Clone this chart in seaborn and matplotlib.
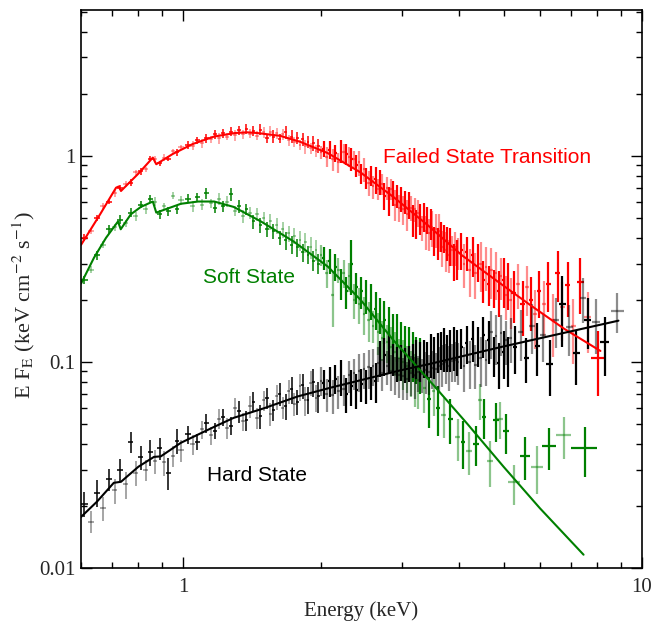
import numpy as np
import seaborn as sns
import matplotlib
matplotlib.use("Agg")
import matplotlib.pyplot as plt
from matplotlib.ticker import LogLocator, NullFormatter

# common energy grid (keV) used by the three spectra below 5.2 keV
grid_energy = [0.61, 0.63, 0.65, 0.67, 0.69, 0.71, 0.73, 0.75, 0.77, 0.79,
               0.81, 0.83, 0.85, 0.87, 0.89, 0.91, 0.93, 0.95, 0.97, 0.99,
               1.025, 1.05, 1.075, 1.10, 1.125, 1.15, 1.175, 1.20, 1.225, 1.25,
               1.275, 1.30, 1.325, 1.35, 1.375, 1.40, 1.425, 1.45, 1.475, 1.50,
               1.525, 1.55, 1.575, 1.60, 1.625, 1.65, 1.675, 1.70, 1.725, 1.75,
               1.775, 1.80, 1.825, 1.85, 1.875, 1.90, 1.925, 1.95, 1.975, 2.00,
               2.03, 2.06, 2.09, 2.12, 2.15, 2.18, 2.21, 2.24, 2.27, 2.30,
               2.33, 2.36, 2.39, 2.42, 2.45, 2.48, 2.51, 2.54, 2.57, 2.60,
               2.63, 2.66, 2.69, 2.72, 2.75, 2.78, 2.81, 2.84, 2.87, 2.90,
               2.93, 2.96, 2.99, 3.02, 3.05, 3.08, 3.11, 3.14, 3.17, 3.20,
               3.23, 3.26, 3.29, 3.32, 3.35, 3.38, 3.41, 3.44, 3.47, 3.50,
               3.53, 3.56, 3.59, 3.62, 3.65, 3.68, 3.71, 3.74, 3.77, 3.80,
               3.83, 3.86, 3.89, 3.92, 3.95, 3.98,
               4.04, 4.10, 4.16, 4.22, 4.28, 4.34, 4.40, 4.46, 4.52, 4.58,
               4.64, 4.70, 4.76, 4.82, 4.88, 4.94, 5.00, 5.06, 5.12, 5.18]

# ---- failed state transition (red)
red_flux = [0.40, 0.43, 0.50, 0.57, 0.60, 0.66, 0.70, 0.73, 0.74, 0.83,
            0.84, 0.86, 0.97, 0.96, 0.92, 0.98, 0.97, 1.05, 1.04, 1.10,
            1.13, 1.12, 1.19, 1.15, 1.22, 1.20, 1.27, 1.22, 1.29, 1.24,
            1.31, 1.26, 1.33, 1.27, 1.35, 1.28, 1.32, 1.25, 1.34, 1.30,
            1.22, 1.31, 1.24, 1.29, 1.21, 1.27, 1.30, 1.19, 1.24, 1.17,
            1.22, 1.13, 1.20, 1.11, 1.17, 1.09, 1.15, 1.06, 1.12, 1.04,
            1.08, 0.99, 1.07, 0.96, 1.03, 0.93, 1.06, 1.04, 1.02, 0.99,
            0.97, 0.96, 0.90, 0.93, 0.82, 0.86, 0.78, 0.74, 0.80, 0.71,
            0.77, 0.69, 0.75, 0.73, 0.64, 0.70, 0.61, 0.69, 0.66, 0.58,
            0.64, 0.56, 0.62, 0.55, 0.60, 0.52, 0.58, 0.56, 0.49, 0.55,
            0.47, 0.53, 0.50, 0.45, 0.51, 0.43, 0.49, 0.42, 0.47, 0.45,
            0.39, 0.44, 0.38, 0.43, 0.41, 0.36, 0.40, 0.35, 0.38, 0.33,
            0.37, 0.35, 0.31, 0.36, 0.32, 0.34,
            0.35, 0.30, 0.34, 0.28, 0.33, 0.27, 0.31, 0.30, 0.25, 0.29,
            0.24, 0.28, 0.23, 0.27, 0.22, 0.26, 0.25, 0.21, 0.24, 0.20]
red_err_pct = [4, 3, 3, 4, 3, 4, 3, 3, 4, 3, 4, 3, 3, 4, 3, 4, 3, 3, 4, 3,
               4, 5, 4, 5, 5, 4, 5, 6, 5, 4, 5, 6, 5, 5, 6, 5, 6, 5, 6, 6,
               5, 6, 7, 6, 5, 6, 7, 6, 7, 6, 7, 6, 7, 8, 7, 6, 8, 7, 8, 7,
               9, 11, 10, 12, 9, 11, 13, 10, 12, 11, 13, 10, 12, 14, 11, 13, 12, 14, 11, 13,
               15, 12, 14, 12, 15, 13, 16, 12, 14, 17, 13, 15, 14, 16, 13, 17, 15, 14, 18, 13,
               16, 15, 17, 14, 16, 19, 15, 18, 17, 20, 16, 19, 18, 21, 17, 20, 16, 22, 19, 18,
               21, 17, 20, 19, 22, 18,
               20, 24, 19, 26, 22, 25, 21, 27, 23, 24, 22, 28, 21, 26, 25, 23, 27, 24, 26, 28]
red_tail_energy = [5.26, 5.38, 5.50, 5.62, 5.74, 5.86, 5.98, 6.12, 6.26, 6.40,
                   6.56, 6.72, 6.90, 7.10, 7.35, 7.62, 8.05]
red_tail_halfwidth = [0.06, 0.06, 0.06, 0.06, 0.06, 0.06, 0.06, 0.07, 0.07, 0.07,
                      0.08, 0.08, 0.09, 0.10, 0.12, 0.14, 0.30]
red_tail_flux = [0.215, 0.24, 0.19, 0.23, 0.20, 0.17, 0.22, 0.19, 0.24, 0.16,
                 0.27, 0.185, 0.235, 0.15, 0.245, 0.165, 0.105]
red_tail_err_pct = [28, 25, 30, 27, 29, 32, 26, 30, 27, 34, 28, 32, 30, 35, 30, 33, 35]

red_model_e = [0.60, 0.66, 0.715, 0.725, 0.733, 0.80, 0.86, 0.875, 0.95, 1.05, 1.17,
               1.30, 1.38, 1.45, 1.63, 1.80, 2.07, 2.44, 2.88, 3.42, 4.05, 4.86,
               5.73, 6.77, 8.13]
red_model_f = [0.37, 0.52, 0.70, 0.71, 0.675, 0.82, 0.98, 0.91, 1.02, 1.14, 1.24,
               1.29, 1.30, 1.29, 1.25, 1.17, 1.03, 0.83, 0.63, 0.46, 0.33, 0.245,
               0.188, 0.145, 0.113]

# ---- soft state (green)
green_flux = [0.25, 0.28, 0.33, 0.37, 0.44, 0.45, 0.49, 0.47, 0.53, 0.51,
              0.58, 0.55, 0.62, 0.60, 0.52, 0.57, 0.54, 0.64, 0.55, 0.61,
              0.62, 0.57, 0.63, 0.58, 0.66, 0.59, 0.56, 0.62, 0.57, 0.60,
              0.65, 0.54, 0.57, 0.51, 0.55, 0.53, 0.48, 0.52, 0.46, 0.50,
              0.44, 0.48, 0.43, 0.46, 0.40, 0.44, 0.39, 0.42, 0.37, 0.41,
              0.36, 0.39, 0.34, 0.38, 0.33, 0.36, 0.31, 0.35, 0.30, 0.33,
              0.32, 0.27, 0.31, 0.21, 0.29, 0.28, 0.24, 0.27, 0.22, 0.26,
              0.30, 0.20, 0.23, 0.19, 0.22, 0.17, 0.21, 0.16, 0.20, 0.15,
              0.18, 0.14, 0.17, 0.13, 0.16, 0.125, 0.15, 0.118, 0.14, 0.112,
              0.135, 0.105, 0.125, 0.10, 0.12, 0.095, 0.115, 0.09, 0.11, 0.085,
              0.105, 0.082, 0.10]
green_err_pct = [5, 4, 5, 4, 5, 4, 5, 4, 5, 5, 4, 5, 4, 5, 5, 4, 5, 4, 5, 5,
                 5, 6, 5, 6, 6, 5, 6, 7, 6, 6, 7, 6, 7, 7, 6, 7, 8, 7, 8, 7,
                 8, 9, 8, 9, 8, 9, 10, 9, 10, 9, 10, 11, 10, 11, 10, 12, 11, 12, 11, 12,
                 13, 15, 14, 30, 15, 14, 17, 15, 18, 16, 30, 19, 17, 20, 18, 21, 19, 22, 20, 18,
                 21, 23, 20, 22, 24, 21, 23, 25, 22, 24, 26, 23, 25, 27, 24, 26, 28, 25, 27, 29,
                 26, 28, 30]
green_tail_energy = [3.36, 3.44, 3.52, 3.60, 3.70, 3.83, 3.97, 4.08, 4.20, 4.35,
                     4.44, 4.53, 4.66, 4.81, 4.92, 5.06, 5.27, 5.56, 5.91, 6.27,
                     6.76, 7.51]
green_tail_halfwidth = [0.03, 0.03, 0.03, 0.04, 0.04, 0.05, 0.05, 0.05, 0.06, 0.06,
                        0.05, 0.05, 0.07, 0.07, 0.07, 0.08, 0.15, 0.14, 0.17, 0.22,
                        0.27, 0.50]
green_tail_flux = [0.075, 0.066, 0.072, 0.060, 0.055, 0.053, 0.043, 0.041, 0.037, 0.040,
                   0.065, 0.054, 0.033, 0.052, 0.053, 0.046, 0.026, 0.035, 0.031, 0.039,
                   0.044, 0.038]
green_tail_err_pct = [25, 28, 24, 27, 22, 25, 23, 26, 24, 22, 20, 22, 25, 21, 20, 22,
                      22, 24, 26, 23, 23, 27]

green_model_e = [0.60, 0.64, 0.68, 0.722, 0.732, 0.77, 0.81, 0.86, 0.875, 0.99, 1.08,
                 1.17, 1.29, 1.33, 1.48, 1.74, 2.07, 2.44, 2.88, 3.52, 4.17, 5.0,
                 6.0, 7.47]
green_model_f = [0.24, 0.32, 0.40, 0.48, 0.44, 0.52, 0.565, 0.60, 0.53, 0.585, 0.60,
                 0.60, 0.565, 0.545, 0.48, 0.385, 0.29, 0.20, 0.127, 0.077, 0.050,
                 0.031, 0.0195, 0.0116]

# ---- hard state (black)
black_flux = [0.0205, 0.0168, 0.0232, 0.0195, 0.0270, 0.0238, 0.0300, 0.0255, 0.0410, 0.0290,
              0.0345, 0.0300, 0.0365, 0.0330, 0.0380, 0.0325, 0.0290, 0.0350, 0.0415, 0.0372,
              0.0445, 0.0398, 0.0410, 0.0470, 0.0505, 0.0440, 0.0462, 0.0530, 0.0540, 0.0478,
              0.0490, 0.0600, 0.0575, 0.0515, 0.0520, 0.0610, 0.0640, 0.0535, 0.0545, 0.0650,
              0.0670, 0.0560, 0.0585, 0.0680, 0.0700, 0.0600, 0.0610, 0.0720, 0.0735, 0.0625,
              0.0640, 0.0760, 0.0770, 0.0650, 0.0655, 0.0790, 0.0800, 0.0670, 0.0680, 0.0810,
              0.0790, 0.0700, 0.0810, 0.0690, 0.0830, 0.0720, 0.0850, 0.0740, 0.0700, 0.0860,
              0.0760, 0.0880, 0.0730, 0.0900, 0.0780, 0.0920, 0.0770, 0.0940, 0.0800, 0.0960,
              0.0810, 0.0990, 0.1050, 0.0880, 0.1080, 0.0950, 0.1120, 0.0900, 0.1040, 0.0870,
              0.0990, 0.0860, 0.1010, 0.0850, 0.0980, 0.0830, 0.1000, 0.0880, 0.1030, 0.0860,
              0.1050, 0.0890, 0.1020, 0.0870, 0.1060, 0.0910, 0.1040, 0.0890, 0.1100, 0.0930,
              0.1070, 0.0920, 0.1130, 0.0950, 0.1150, 0.0980, 0.1180, 0.1000, 0.1120, 0.0960,
              0.1160, 0.1010, 0.1190, 0.1020, 0.1140, 0.1000,
              0.118, 0.095, 0.124, 0.100, 0.129, 0.097, 0.121, 0.104, 0.135, 0.102,
              0.128, 0.140, 0.108, 0.133, 0.099, 0.138, 0.112, 0.127, 0.104, 0.131]
black_err_pct = [14, 12, 15, 13, 12, 14, 13, 15, 12, 14, 13, 12, 14, 13, 12, 14, 18, 12, 14, 12,
                 10, 11, 9, 10, 11, 10, 9, 11, 10, 12, 10, 11, 12, 10, 11, 12, 11, 12, 13, 11,
                 12, 13, 12, 14, 13, 12, 14, 13, 15, 13, 14, 15, 14, 16, 15, 14, 16, 15, 17, 16,
                 16, 18, 17, 19, 16, 18, 20, 17, 19, 18, 20, 17, 19, 21, 18, 20, 19, 21, 18, 20,
                 22, 19, 20, 18, 21, 19, 22, 20, 18, 21, 19, 22, 20, 23, 19, 21, 20, 22, 19, 23,
                 21, 20, 22, 19, 21, 23, 20, 22, 24, 21, 23, 20, 22, 25, 21, 23, 24, 22, 20, 25,
                 23, 21, 24, 22, 25, 23,
                 22, 25, 21, 26, 23, 24, 22, 27, 23, 25, 24, 26, 22, 27, 25, 23, 26, 24, 27, 25]
black_tail_energy = [5.30, 5.45, 5.60, 5.76, 5.92, 6.10, 6.30, 6.50, 6.72, 6.95,
                     7.20, 7.45, 7.62, 7.95, 8.30, 8.85]
black_tail_halfwidth = [0.06, 0.07, 0.07, 0.08, 0.08, 0.09, 0.10, 0.10, 0.11, 0.12,
                        0.12, 0.13, 0.13, 0.16, 0.18, 0.28]
black_tail_flux = [0.118, 0.140, 0.105, 0.150, 0.120, 0.135, 0.098, 0.160, 0.190, 0.148,
                   0.110, 0.205, 0.160, 0.156, 0.125, 0.177]
black_tail_err_pct = [26, 28, 25, 27, 29, 26, 30, 27, 38, 28, 30, 25, 28, 30, 32, 22]

black_model_e = [0.60, 0.65, 0.707, 0.733, 0.80, 0.865, 0.895, 0.99, 1.17, 1.29, 1.50,
                 1.78, 2.10, 2.98, 3.47, 4.93, 6.5, 8.9]
black_model_f = [0.0177, 0.0210, 0.0259, 0.0262, 0.0310, 0.0346, 0.0348, 0.0405, 0.0484,
                 0.0535, 0.0595, 0.068, 0.075, 0.091, 0.098, 0.118, 0.1355, 0.1585]

RED = "#ff0000"
GREEN = "#008000"
BLACK = "#000000"

sns.set_style("ticks")
plt.rcParams["font.family"] = ["Liberation Serif", "DejaVu Serif"]
plt.rcParams["mathtext.fontset"] = "stix"

fig = plt.figure(figsize=(6.62, 6.23), dpi=100)
ax = fig.add_axes([0.1225, 0.0883, 0.8468, 0.8957])
ax.set_xscale("log")
ax.set_yscale("log")

grid = np.array(grid_energy)
grid_half = np.gradient(grid) / 2


def draw_spectrum(energy, half, flux, pct, colour):
    energy = np.asarray(energy)
    half = np.asarray(half)
    flux = np.asarray(flux)
    err = flux * np.asarray(pct) / 100.0
    idx = np.arange(len(energy))
    # alternate solid / faded bars like the original plot,
    # a bit thicker where the bins are packed together
    for parity, alpha in ((0, 1.0), (1, 0.45)):
        for dense, lw in ((False, 1.1), (True, 1.6)):
            m = (idx % 2 == parity) & ((energy >= 2.0) == dense)
            if not m.any():
                continue
            ax.errorbar(energy[m], flux[m], xerr=half[m], yerr=err[m], fmt="none",
                        ecolor=colour, elinewidth=lw, capsize=0, alpha=alpha)


n_green = len(green_flux)
draw_spectrum(list(grid) + red_tail_energy, list(grid_half) + red_tail_halfwidth,
              red_flux + red_tail_flux, red_err_pct + red_tail_err_pct, RED)
draw_spectrum(list(grid[:n_green]) + green_tail_energy,
              list(grid_half[:n_green]) + green_tail_halfwidth,
              green_flux + green_tail_flux, green_err_pct + green_tail_err_pct, GREEN)
draw_spectrum(list(grid) + black_tail_energy, list(grid_half) + black_tail_halfwidth,
              black_flux + black_tail_flux, black_err_pct + black_tail_err_pct, BLACK)

# model curves
for xs, ys, c in ((red_model_e, red_model_f, RED),
                  (green_model_e, green_model_f, GREEN),
                  (black_model_e, black_model_f, BLACK)):
    sns.lineplot(x=xs, y=ys, color=c, lw=1.5, sort=False, estimator=None, ax=ax)

sans = ["Liberation Sans", "DejaVu Sans"]
ax.text(2.73, 0.925, "Failed State Transition", color=RED, fontsize=15,
        family=sans, va="baseline")
ax.text(1.105, 0.2417, "Soft State", color=GREEN, fontsize=15,
        family=sans, va="baseline")
ax.text(1.128, 0.0264, "Hard State", color=BLACK, fontsize=15,
        family=sans, va="baseline")

ax.set_xlim(0.6, 10)
ax.set_ylim(0.01, 5.1)
ax.set_xticks([1, 10])
ax.set_xticklabels(["1", "10"])
ax.set_yticks([0.01, 0.1, 1])
ax.set_yticklabels(["0.01", "0.1", "1"])
ax.xaxis.set_minor_locator(LogLocator(base=10, subs=np.arange(2, 10)))
ax.yaxis.set_minor_locator(LogLocator(base=10, subs=np.arange(2, 10)))
ax.xaxis.set_minor_formatter(NullFormatter())
ax.yaxis.set_minor_formatter(NullFormatter())
ax.tick_params(which="both", direction="in", top=True, right=True,
               labelsize=15, color="black", width=1.0)
ax.tick_params(which="major", length=8)
ax.tick_params(axis="x", which="major", pad=7)
ax.tick_params(axis="y", which="major", pad=4)
ax.tick_params(which="minor", length=4.5)
for sp in ax.spines.values():
    sp.set_visible(True)
    sp.set_linewidth(1.2)
    sp.set_color("black")

ax.set_xlabel("Energy (keV)", fontsize=15, labelpad=3)
ax.set_ylabel(r"E F$_{\mathrm{E}}$ (keV cm$^{-2}$ s$^{-1}$)", fontsize=16)
ax.yaxis.set_label_coords(-0.078, 0.47)

fig.savefig("out.png", dpi=100)
